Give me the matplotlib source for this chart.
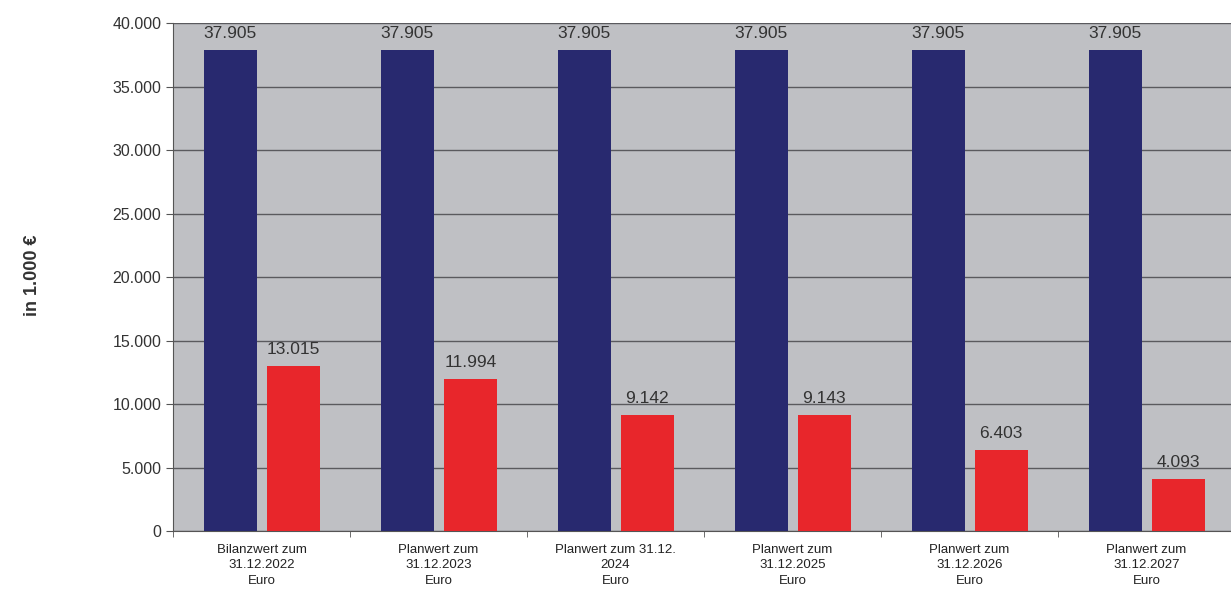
import matplotlib.pyplot as plt
import numpy as np

categories = [
    "Bilanzwert zum\n31.12.2022\nEuro",
    "Planwert zum\n31.12.2023\nEuro",
    "Planwert zum 31.12.\n2024\nEuro",
    "Planwert zum\n31.12.2025\nEuro",
    "Planwert zum\n31.12.2026\nEuro",
    "Planwert zum\n31.12.2027\nEuro",
]
blue_values = [37905, 37905, 37905, 37905, 37905, 37905]
red_values = [13015, 11994, 9142, 9143, 6403, 4093]
yticks = [0, 5000, 10000, 15000, 20000, 25000, 30000, 35000, 40000]


def fmt(v):
    return f"{v:,}".replace(",", ".")


plt.rcParams["font.family"] = ["Liberation Sans", "DejaVu Sans"]

fig = plt.figure(figsize=(12.31, 5.92), dpi=100)
ax = fig.add_axes([0.1405, 0.103, 0.8627, 0.858])
ax.set_facecolor("#bfc0c4")

x = np.arange(len(categories))
w = 0.30
b1 = ax.bar(x - 0.175, blue_values, w, color="#28296f", zorder=3)
b2 = ax.bar(x + 0.18, red_values, w, color="#e8262b", zorder=3)

for rect, v in zip(b1, blue_values):
    ax.text(rect.get_x() + rect.get_width() / 2, v + 700, fmt(v),
            ha="center", va="bottom", fontsize=12.5, color="#333333", zorder=4)
for rect, v in zip(b2, red_values):
    ax.text(rect.get_x() + rect.get_width() / 2, v + 700, fmt(v),
            ha="center", va="bottom", fontsize=12.5, color="#333333", zorder=4)

ax.set_xlim(-0.5, len(categories) - 0.5)
ax.set_ylim(0, 40000)
ax.set_yticks(yticks)
ax.set_yticklabels([fmt(t) for t in yticks], fontsize=11.5, color="#333333")
ax.yaxis.grid(True, color="#5a5a5e", linewidth=1.0, zorder=1)

ax.set_xticks(x)
ax.set_xticklabels(categories, fontsize=9.5, color="#222222", linespacing=1.4)
ax.set_xticks(np.arange(len(categories) + 1) - 0.5, minor=True)
ax.tick_params(axis="x", which="major", length=0, pad=9)
ax.tick_params(axis="x", which="minor", length=4, color="#555555")
ax.tick_params(axis="y", length=5, color="#555555")

for side in ["top", "right"]:
    ax.spines[side].set_visible(False)
ax.spines["left"].set_color("#555555")
ax.spines["bottom"].set_color("#555555")

fig.text(0.026, 0.535, "in 1.000 €", rotation=90, ha="center", va="center",
         fontsize=13, fontweight="bold", color="#333333")

fig.savefig("out.png", dpi=100)
